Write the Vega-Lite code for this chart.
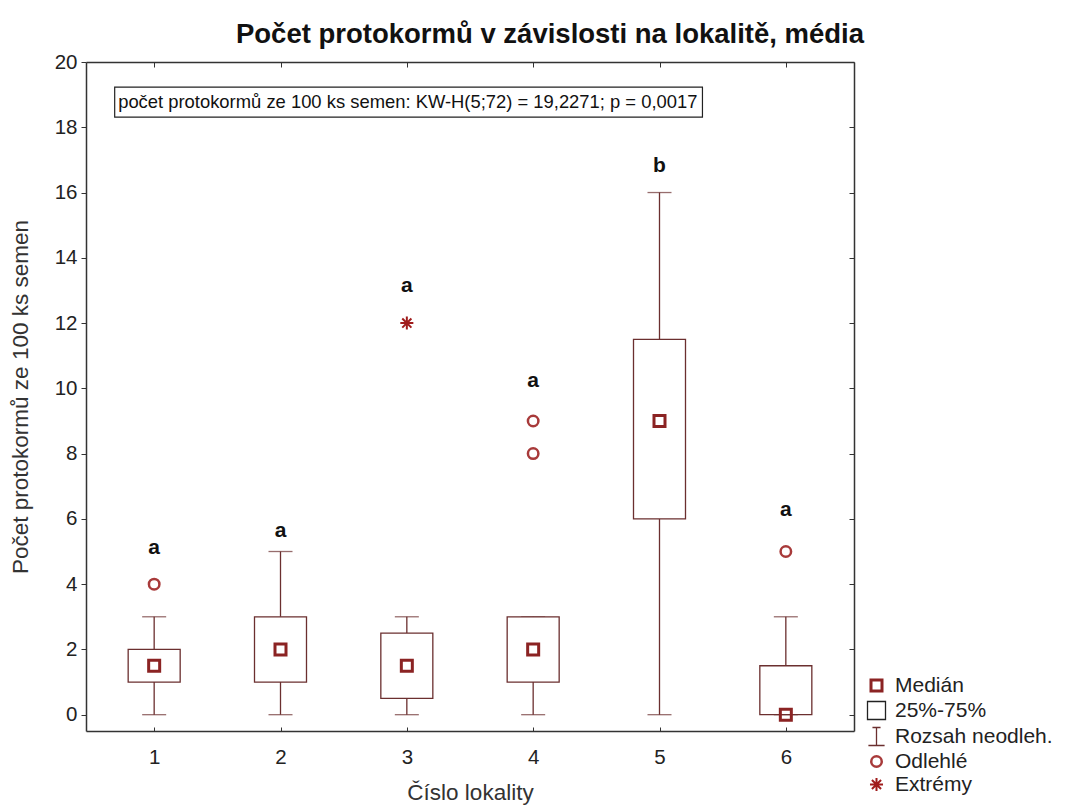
{
  "$schema": "https://vega.github.io/schema/vega-lite/v6.json",
  "width": 768,
  "height": 669,
  "autosize": {"type": "none"},
  "padding": {"left": 86, "top": 62, "right": 220, "bottom": 76},
  "background": "white",
  "title": {"text": "Počet protokormů v závislosti na lokalitě, média", "font": "Liberation Sans", "fontSize": 27.5, "fontWeight": "bold", "color": "#111", "anchor": "middle", "dx": 80, "offset": 4},
  "config": {
    "view": {"stroke": null},
    "axis": {"labelFont": "Liberation Sans", "titleFont": "Liberation Sans", "labelFontSize": 20.5, "titleFontSize": 22.5, "titleFontWeight": "normal", "labelColor": "#222", "titleColor": "#333", "domainColor": "#333", "domainWidth": 1.5, "tickColor": "#333", "grid": false}
  },
  "datasets": {
    "boxes": [
      {"loc": 1, "q1": 1, "q3": 2, "lo": 0, "hi": 3},
      {"loc": 2, "q1": 1, "q3": 3, "lo": 0, "hi": 5},
      {"loc": 3, "q1": 0.5, "q3": 2.5, "lo": 0, "hi": 3},
      {"loc": 4, "q1": 1, "q3": 3, "lo": 0, "hi": 3},
      {"loc": 5, "q1": 6, "q3": 11.5, "lo": 0, "hi": 16},
      {"loc": 6, "q1": 0, "q3": 1.5, "lo": 0, "hi": 3}
    ],
    "points": [
      {"loc": 1, "value": 1.5, "type": "Medián"},
      {"loc": 2, "value": 2, "type": "Medián"},
      {"loc": 3, "value": 1.5, "type": "Medián"},
      {"loc": 4, "value": 2, "type": "Medián"},
      {"loc": 5, "value": 9, "type": "Medián"},
      {"loc": 6, "value": 0, "type": "Medián"},
      {"loc": 1, "value": 4, "type": "Odlehlé"},
      {"loc": 4, "value": 8, "type": "Odlehlé"},
      {"loc": 4, "value": 9, "type": "Odlehlé"},
      {"loc": 6, "value": 5, "type": "Odlehlé"},
      {"loc": 3, "value": 12, "type": "Extrémy"}
    ],
    "letters": [
      {"loc": 1, "value": 5.12, "letter": "a"},
      {"loc": 2, "value": 5.64, "letter": "a"},
      {"loc": 3, "value": 13.13, "letter": "a"},
      {"loc": 4, "value": 10.21, "letter": "a"},
      {"loc": 5, "value": 16.81, "letter": "b"},
      {"loc": 6, "value": 6.26, "letter": "a"}
    ]
  },
  "layer": [
    {
      "data": {"name": "boxes"},
      "mark": {"type": "rule", "color": "#6b2f2f", "strokeWidth": 1.3},
      "encoding": {
        "x": {"field": "loc", "type": "quantitative", "scale": {"domain": [0.5, 6.5], "nice": false, "zero": false},
              "axis": {"orient": "bottom", "title": "Číslo lokality", "values": [1, 2, 3, 4, 5, 6], "tickSize": -4, "labelPadding": 20, "titlePadding": 14}},
        "y": {"field": "lo", "type": "quantitative", "scale": {"domain": [-0.5, 20], "nice": false, "zero": false},
              "axis": {"orient": "left", "title": "Počet protokormů ze 100 ks semen", "values": [0, 2, 4, 6, 8, 10, 12, 14, 16, 18, 20], "tickSize": 5, "labelPadding": 4, "titlePadding": 22}},
        "y2": {"field": "hi"}
      }
    },
    {
      "data": {"name": "boxes"},
      "mark": {"type": "tick", "orient": "horizontal", "color": "#6b2f2f", "size": 24, "thickness": 1.3},
      "encoding": {
        "x": {"field": "loc", "type": "quantitative", "axis": null},
        "y": {"field": "lo", "type": "quantitative", "axis": null}
      }
    },
    {
      "data": {"name": "boxes"},
      "mark": {"type": "tick", "orient": "horizontal", "color": "#6b2f2f", "size": 24, "thickness": 1.3},
      "encoding": {
        "x": {"field": "loc", "type": "quantitative", "axis": null},
        "y": {"field": "hi", "type": "quantitative", "axis": null}
      }
    },
    {
      "data": {"name": "boxes"},
      "mark": {"type": "bar", "width": 52, "fill": "white", "stroke": "#6b2f2f", "strokeWidth": 1.3},
      "encoding": {
        "x": {"field": "loc", "type": "quantitative",
              "axis": {"orient": "top", "title": null, "labels": false, "values": [1, 2, 3, 4, 5, 6], "tickSize": -5}},
        "y": {"field": "q1", "type": "quantitative",
              "axis": {"orient": "right", "title": null, "labels": false, "values": [0, 2, 4, 6, 8, 10, 12, 14, 16, 18, 20], "tickSize": -5}},
        "y2": {"field": "q3"}
      }
    },
    {
      "data": {"name": "points"},
      "mark": {"type": "point", "filled": false, "opacity": 1},
      "encoding": {
        "x": {"field": "loc", "type": "quantitative", "axis": null},
        "y": {"field": "value", "type": "quantitative", "axis": null},
        "shape": {"field": "type", "type": "nominal",
                  "scale": {"domain": ["Medián", "25%-75%", "Rozsah neodleh.", "Odlehlé", "Extrémy"],
                            "range": ["M-1,-1H1V1H-1Z", "M-1,-1H1V1H-1Z", "M-0.45,-1H0.45M0,-1V1M-0.9,1H0.9", "circle", "M0,-1V1M-1,0H1M-0.7,-0.7L0.7,0.7M-0.7,0.7L0.7,-0.7"]},
                  "legend": {"title": null, "orient": "none", "legendX": 780, "legendY": 613, "labelFont": "Liberation Sans", "labelFontSize": 21, "labelColor": "#222", "labelOffset": 8, "rowPadding": 1, "padding": 0}},
        "color": {"field": "type", "type": "nominal",
                  "scale": {"domain": ["Medián", "25%-75%", "Rozsah neodleh.", "Odlehlé", "Extrémy"],
                            "range": ["#8b2323", "#222222", "#6b2f2f", "#a83a3a", "#a01c1c"]}},
        "size": {"field": "type", "type": "nominal",
                 "scale": {"type": "ordinal", "domain": ["Medián", "25%-75%", "Rozsah neodleh.", "Odlehlé", "Extrémy"],
                           "range": [121, 324, 324, 110, 170]}},
        "strokeWidth": {"field": "type", "type": "nominal",
                 "scale": {"type": "ordinal", "domain": ["Medián", "25%-75%", "Rozsah neodleh.", "Odlehlé", "Extrémy"],
                           "range": [3, 1.3, 1.3, 2.5, 2]}}
      }
    },
    {
      "data": {"name": "letters"},
      "mark": {"type": "text", "font": "Liberation Sans", "fontSize": 21, "fontWeight": "bold", "color": "#111", "baseline": "middle", "align": "center"},
      "encoding": {
        "x": {"field": "loc", "type": "quantitative", "axis": null},
        "y": {"field": "value", "type": "quantitative", "axis": null},
        "text": {"field": "letter"}
      }
    },
    {
      "data": {"values": [{}]},
      "mark": {"type": "rect", "fill": "white", "stroke": "#222", "strokeWidth": 1.2},
      "encoding": {
        "x": {"datum": 0.6875, "type": "quantitative", "axis": null},
        "x2": {"datum": 5.34},
        "y": {"datum": 19.23, "type": "quantitative", "axis": null},
        "y2": {"datum": 18.31}
      }
    },
    {
      "data": {"values": [{"label": "počet protokormů ze 100 ks semen: KW-H(5;72) = 19,2271; p = 0,0017"}]},
      "mark": {"type": "text", "font": "Liberation Sans", "fontSize": 18.4, "color": "#111", "align": "left", "baseline": "middle"},
      "encoding": {
        "x": {"datum": 0.715, "type": "quantitative", "axis": null},
        "y": {"datum": 18.77, "type": "quantitative", "axis": null},
        "text": {"field": "label"}
      }
    }
  ],
  "resolve": {"axis": {"x": "independent", "y": "independent"}}
}
